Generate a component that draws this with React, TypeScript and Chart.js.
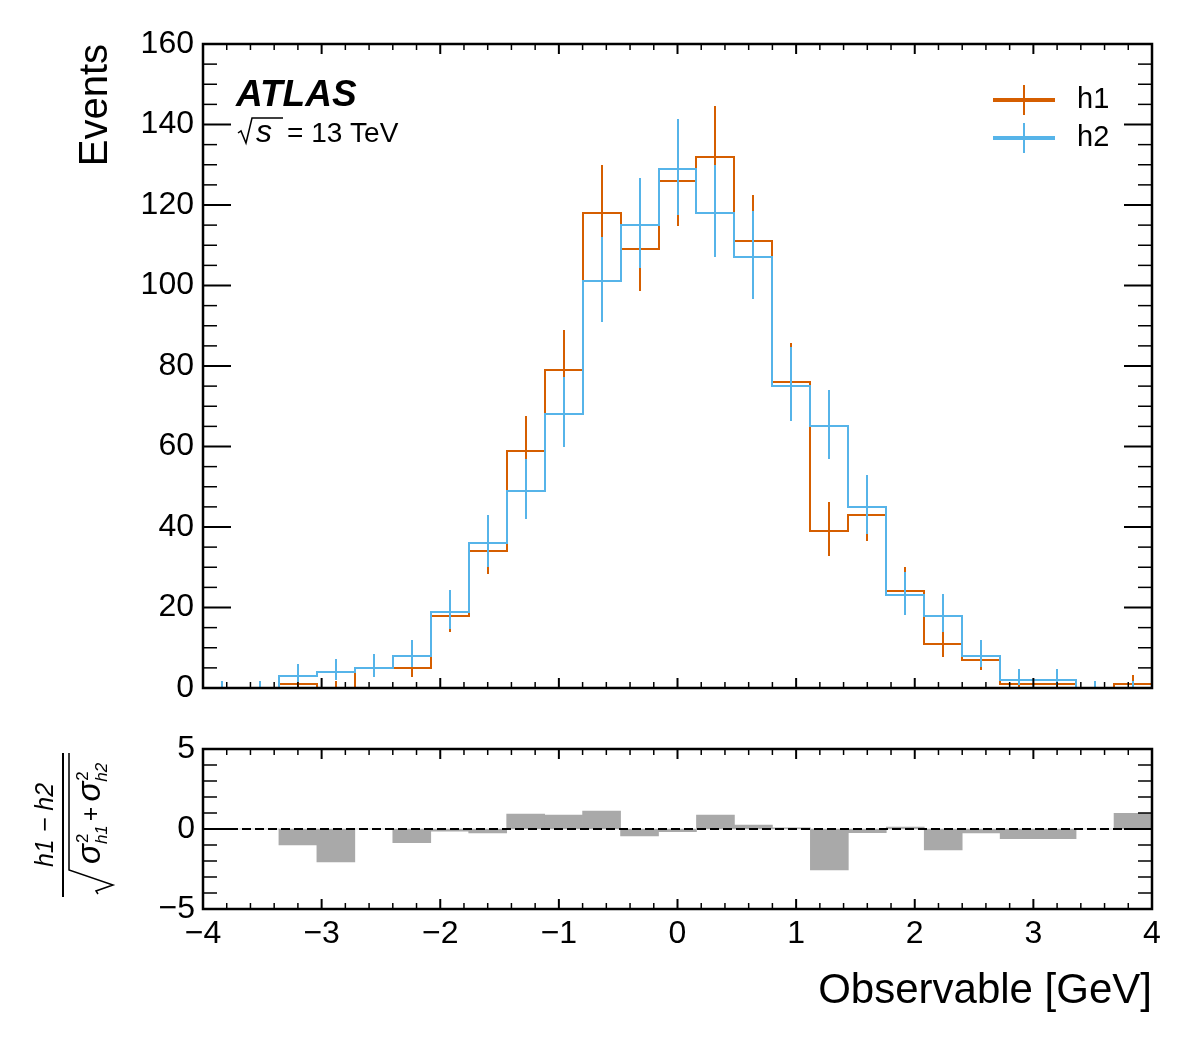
import React, { useEffect, useRef } from 'react';
import { Chart, registerables } from 'chart.js';
import type { ChartConfiguration, Plugin } from 'chart.js';

Chart.register(...registerables);

// 25 bins of width 0.32 from -4 to 4
const binEdges = [
  -4.0, -3.68, -3.36, -3.04, -2.72, -2.4, -2.08, -1.76, -1.44, -1.12, -0.8, -0.48, -0.16,
  0.16, 0.48, 0.8, 1.12, 1.44, 1.76, 2.08, 2.4, 2.72, 3.04, 3.36, 3.68, 4.0,
];

const h1Counts = [0, 0, 1, 0, 5, 5, 18, 34, 59, 79, 118, 109, 126, 132, 111, 76, 39, 43, 24, 11, 7, 1, 1, 0, 1];
const h1ErrLow = [0, 0, 0.8, 0, 2.2, 2.2, 4.2, 5.8, 7.7, 8.9, 10.9, 10.4, 11.2, 11.5, 10.5, 8.7, 6.2, 6.5, 4.9, 3.3, 2.6, 0.8, 0.8, 0, 0.8];
const h1ErrHigh = [1.8, 1.8, 2.3, 1.8, 3.4, 3.4, 5.3, 6.9, 8.7, 9.9, 11.9, 11.5, 12.3, 12.5, 11.6, 9.8, 7.3, 7.6, 6.0, 4.4, 3.8, 2.3, 2.3, 1.8, 2.3];

const h2Counts = [0, 0, 3, 4, 5, 8, 19, 36, 49, 68, 101, 115, 129, 118, 107, 75, 65, 45, 23, 18, 8, 2, 2, 0, 0];
const h2ErrLow = [0, 0, 1.6, 1.9, 2.2, 2.8, 4.3, 6.0, 7.0, 8.2, 10.0, 10.7, 11.4, 10.9, 10.3, 8.7, 8.0, 6.7, 4.8, 4.2, 2.8, 1.3, 1.3, 0, 0];
const h2ErrHigh = [1.8, 1.8, 2.9, 3.2, 3.4, 3.9, 5.4, 7.1, 8.0, 9.3, 11.1, 11.8, 12.4, 11.9, 11.4, 9.7, 9.1, 7.8, 5.9, 5.3, 3.9, 2.6, 2.6, 1.8, 1.8];

const pullValues = [0, 0, -1.0, -2.05, 0, -0.85, -0.14, -0.24, 0.93, 0.87, 1.12, -0.43, -0.17, 0.87, 0.25, 0.07, -2.55, -0.23, 0.12, -1.3, -0.25, -0.6, -0.6, 0, 0.98];

const seriesLabels = ['h1', 'h2'];

const H1_COLOR = '#d55e00';
const H2_COLOR = '#56b4e9';
const PULL_COLOR = '#a9a9a9';
const FONT = '"Liberation Sans", Arial, Helvetica, sans-serif';

const X_MAJOR = 1;
const X_MINOR = 0.2;

const fmtMinus = (v: number | string) => String(v).replace('-', '\u2212');

const binCenters = binEdges.slice(0, -1).map((e, i) => (e + binEdges[i + 1]) / 2);

const stepPoints = (counts: number[]) =>
  binEdges.map((edge, i) => ({ x: edge, y: counts[Math.min(i, counts.length - 1)] }));

const errorPoints = (counts: number[], lo: number[], hi: number[]) => {
  const pts: { x: number; y: number | null }[] = [];
  counts.forEach((c, i) => {
    pts.push({ x: binCenters[i], y: c - lo[i] }, { x: binCenters[i], y: c + hi[i] }, { x: binCenters[i], y: null });
  });
  return pts;
};

// round line vertices to whole pixels so overlapping 2px lines do not blend
const pixelSnap: Plugin = {
  id: 'pixelSnap',
  beforeDatasetsDraw(chart) {
    chart.getSortedVisibleDatasetMetas().forEach((meta) => {
      meta.data.forEach((pt: any) => {
        if (Number.isFinite(pt.x)) pt.x = Math.round(pt.x);
        if (Number.isFinite(pt.y)) pt.y = Math.round(pt.y);
      });
    });
  },
};

interface FrameOpts {
  yMajorStep: number;
  yMinorStep: number;
  yMajorLen: number;
  yMinorLen: number;
  zeroLine?: boolean;
}

// ATLAS style frame: inward ticks on all four sides
const makeFramePlugin = (o: FrameOpts): Plugin => ({
  id: 'atlasFrame',
  afterDatasetsDraw(chart) {
    const { ctx, chartArea } = chart;
    const { left, right, top, bottom } = chartArea;
    const xs = chart.scales.x;
    const ys = chart.scales.y;
    ctx.save();
    ctx.strokeStyle = '#000';
    ctx.lineCap = 'butt';
    const seg = (x1: number, y1: number, x2: number, y2: number, w: number) => {
      ctx.lineWidth = w;
      ctx.beginPath();
      ctx.moveTo(x1, y1);
      ctx.lineTo(x2, y2);
      ctx.stroke();
    };
    if (o.zeroLine) {
      const y0 = ys.getPixelForValue(0);
      ctx.setLineDash([9, 4]);
      seg(left, y0, right, y0, 2);
      ctx.setLineDash([]);
    }
    const nx = Math.round((xs.max - xs.min) / X_MINOR);
    for (let k = 0; k <= nx; k++) {
      const v = xs.min + k * X_MINOR;
      const major = Math.abs(v / X_MAJOR - Math.round(v / X_MAJOR)) < 1e-6;
      const px = xs.getPixelForValue(v);
      const len = major ? 10 : 6;
      const w = major ? 2 : 1.5;
      seg(px, bottom, px, bottom - len, w);
      seg(px, top, px, top + len, w);
    }
    const ny = Math.round((ys.max - ys.min) / o.yMinorStep);
    for (let k = 0; k <= ny; k++) {
      const v = ys.min + k * o.yMinorStep;
      const major = Math.abs(v / o.yMajorStep - Math.round(v / o.yMajorStep)) < 1e-6;
      const py = ys.getPixelForValue(v);
      const len = major ? o.yMajorLen : o.yMinorLen;
      const w = major ? 2 : 1.5;
      seg(left, py, left + len, py, w);
      seg(right, py, right - len, py, w);
    }
    ctx.lineWidth = 2.5;
    ctx.strokeRect(left, top, right - left, bottom - top);
    ctx.restore();
  },
});

const mainLabels: Plugin = {
  id: 'mainLabels',
  afterDraw(chart) {
    const { ctx } = chart;
    ctx.save();
    ctx.fillStyle = '#000';
    ctx.strokeStyle = '#000';
    ctx.textAlign = 'left';
    ctx.textBaseline = 'alphabetic';
    ctx.font = `italic bold 37px ${FONT}`;
    ctx.fillText('ATLAS', 236, 106);

    // sqrt(s) = 13 TeV
    ctx.lineWidth = 1.5;
    ctx.beginPath();
    ctx.moveTo(238, 133);
    ctx.lineTo(241, 131);
    ctx.lineTo(246, 143);
    ctx.lineTo(252, 118);
    ctx.lineTo(283, 118);
    ctx.stroke();
    ctx.font = `italic 32px ${FONT}`;
    ctx.fillText('s', 256, 142);
    ctx.font = `28px ${FONT}`;
    ctx.fillText('= 13 TeV', 287, 142);

    // legend
    const colors = [H1_COLOR, H2_COLOR];
    seriesLabels.forEach((label, i) => {
      const y = 100 + i * 38;
      ctx.strokeStyle = colors[i];
      ctx.lineWidth = 4;
      ctx.beginPath();
      ctx.moveTo(993, y);
      ctx.lineTo(1055, y);
      ctx.stroke();
      ctx.lineWidth = 2;
      ctx.beginPath();
      ctx.moveTo(1024, y - 15);
      ctx.lineTo(1024, y + 15);
      ctx.stroke();
      ctx.font = `29px ${FONT}`;
      ctx.textBaseline = 'middle';
      ctx.fillText(label, 1077, y);
    });
    ctx.restore();
  },
};

const pullTitle: Plugin = {
  id: 'pullTitle',
  afterDraw(chart) {
    const { ctx } = chart;
    ctx.save();
    ctx.translate(63, 105);
    ctx.rotate(-Math.PI / 2);
    ctx.fillStyle = '#000';
    ctx.strokeStyle = '#000';
    ctx.lineWidth = 2;
    ctx.beginPath();
    ctx.moveTo(-72, 0);
    ctx.lineTo(72, 0);
    ctx.stroke();

    ctx.textAlign = 'center';
    ctx.textBaseline = 'alphabetic';
    ctx.font = `italic 25px ${FONT}`;
    ctx.fillText('h1 \u2212 h2', 0, -10);

    // radical sign
    ctx.lineWidth = 1.5;
    ctx.beginPath();
    ctx.moveTo(72, 6);
    ctx.lineTo(-45, 6);
    ctx.lineTo(-60, 50);
    ctx.lineTo(-66, 33);
    ctx.lineTo(-69, 35);
    ctx.stroke();

    ctx.textAlign = 'left';
    let x = -39;
    const sigmaTerm = (sub: string) => {
      ctx.font = `italic 33px ${FONT}`;
      ctx.fillText('\u03c3', x, 37);
      x += ctx.measureText('\u03c3').width;
      ctx.font = `17px ${FONT}`;
      ctx.fillText('2', x + 1, 25);
      ctx.font = `italic 17px ${FONT}`;
      ctx.fillText(sub, x, 44);
      x += ctx.measureText(sub).width;
    };
    sigmaTerm('h1');
    x += 4;
    ctx.font = `25px ${FONT}`;
    ctx.fillText('+', x, 36);
    x += ctx.measureText('+').width + 5;
    sigmaTerm('h2');
    ctx.restore();
  },
};

const makeMainConfig = (): ChartConfiguration => ({
  type: 'line',
  data: {
    datasets: [
      {
        label: seriesLabels[1],
        data: stepPoints(h2Counts),
        borderColor: H2_COLOR,
        borderWidth: 2,
        stepped: 'before',
        pointRadius: 0,
        fill: false,
        order: 1,
      },
      {
        label: seriesLabels[1] + ' err',
        data: errorPoints(h2Counts, h2ErrLow, h2ErrHigh),
        borderColor: H2_COLOR,
        borderWidth: 2,
        pointRadius: 0,
        spanGaps: false,
        fill: false,
        order: 1,
      },
      {
        label: seriesLabels[0],
        data: stepPoints(h1Counts),
        borderColor: H1_COLOR,
        borderWidth: 2,
        stepped: 'before',
        pointRadius: 0,
        fill: false,
        order: 2,
      },
      {
        label: seriesLabels[0] + ' err',
        data: errorPoints(h1Counts, h1ErrLow, h1ErrHigh),
        borderColor: H1_COLOR,
        borderWidth: 2,
        pointRadius: 0,
        spanGaps: false,
        fill: false,
        order: 2,
      },
    ] as any,
  },
  options: {
    responsive: true,
    maintainAspectRatio: false,
    animation: false,
    layout: { padding: { top: 44, right: 40, bottom: 32, left: 0 } },
    plugins: { legend: { display: false }, tooltip: { enabled: false } },
    scales: {
      x: { type: 'linear', min: -4, max: 4, display: false },
      y: {
        type: 'linear',
        min: 0,
        max: 160,
        afterFit: (s: any) => {
          s.width = 203;
        },
        grid: { display: false, drawTicks: false },
        border: { display: false },
        ticks: { stepSize: 20, padding: 9, color: '#000', font: { family: FONT, size: 32 } },
        title: {
          display: true,
          text: 'Events',
          align: 'end',
          color: '#000',
          font: { family: FONT, size: 40 },
          padding: { top: 72, bottom: 0 },
        },
      },
    },
  },
  plugins: [pixelSnap, makeFramePlugin({ yMajorStep: 20, yMinorStep: 5, yMajorLen: 28, yMinorLen: 14 }), mainLabels],
});

const makePullConfig = (): ChartConfiguration => ({
  type: 'bar',
  data: {
    datasets: [
      {
        label: 'pull',
        data: pullValues.map((v, i) => ({ x: binCenters[i], y: v })),
        backgroundColor: PULL_COLOR,
        borderWidth: 0,
        barPercentage: 1,
        categoryPercentage: 1,
      },
    ] as any,
  },
  options: {
    responsive: true,
    maintainAspectRatio: false,
    animation: false,
    layout: { padding: { top: 29, right: 40, bottom: 0, left: 0 } },
    plugins: { legend: { display: false }, tooltip: { enabled: false } },
    scales: {
      x: {
        type: 'linear',
        min: -4,
        max: 4,
        offset: false,
        afterFit: (s: any) => {
          s.height = 136;
        },
        grid: { display: false, drawTicks: false },
        border: { display: false },
        ticks: {
          stepSize: 1,
          padding: 6,
          maxRotation: 0,
          color: '#000',
          font: { family: FONT, size: 32 },
          callback: (v: any) => fmtMinus(v),
        },
        title: {
          display: true,
          text: 'Observable [GeV]',
          align: 'end',
          color: '#000',
          font: { family: FONT, size: 42 },
          padding: { top: 0, bottom: 28 },
        },
      },
      y: {
        type: 'linear',
        min: -5,
        max: 5,
        afterFit: (s: any) => {
          s.width = 203;
        },
        grid: { display: false, drawTicks: false },
        border: { display: false },
        ticks: {
          stepSize: 5,
          padding: 8,
          color: '#000',
          font: { family: FONT, size: 32 },
          callback: (v: any) => fmtMinus(v),
        },
      },
    },
  },
  plugins: [makeFramePlugin({ yMajorStep: 5, yMinorStep: 1, yMajorLen: 28, yMinorLen: 14, zeroLine: true }), pullTitle],
});

const ChartCanvas: React.FC<{ makeConfig: () => ChartConfiguration; top: number; height: number }> = ({
  makeConfig,
  top,
  height,
}) => {
  const canvasRef = useRef<HTMLCanvasElement>(null);

  useEffect(() => {
    if (!canvasRef.current) return;
    const chart = new Chart(canvasRef.current, makeConfig());
    return () => {
      chart.destroy();
    };
  }, [makeConfig]);

  return (
    <div style={{ position: 'absolute', left: 0, top, width: 1192, height }}>
      <canvas ref={canvasRef} />
    </div>
  );
};

export default function App() {
  return (
    <div style={{ position: 'absolute', left: 0, top: 0, width: 1192, height: 1045, background: '#fff' }}>
      <ChartCanvas makeConfig={makeMainConfig} top={0} height={720} />
      <ChartCanvas makeConfig={makePullConfig} top={720} height={325} />
    </div>
  );
}
